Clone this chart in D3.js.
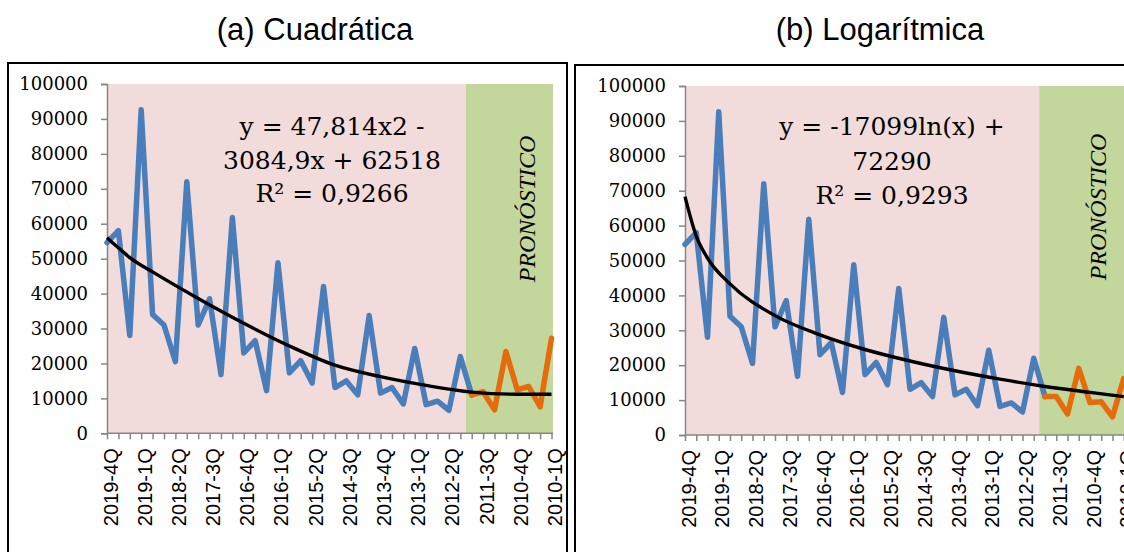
<!DOCTYPE html>
<html><head><meta charset="utf-8">
<script src="https://cdn.jsdelivr.net/npm/d3@7"></script>
<style>body{margin:0;background:#fff;} svg{display:block}</style>
</head><body>
<svg id="c" width="1124" height="552"></svg>
<script>
// ---------- DATA ----------
const categories = ["2019-4Q","2019-3Q","2019-2Q","2019-1Q","2018-4Q","2018-3Q","2018-2Q","2018-1Q",
  "2017-4Q","2017-3Q","2017-2Q","2017-1Q","2016-4Q","2016-3Q","2016-2Q","2016-1Q",
  "2015-4Q","2015-3Q","2015-2Q","2015-1Q","2014-4Q","2014-3Q","2014-2Q","2014-1Q",
  "2013-4Q","2013-3Q","2013-2Q","2013-1Q","2012-4Q","2012-3Q","2012-2Q","2012-1Q",
  "2011-4Q","2011-3Q","2011-2Q","2011-1Q","2010-4Q","2010-3Q","2010-2Q","2010-1Q"];
const tickLabels = ["2019-4Q","2019-1Q","2018-2Q","2017-3Q","2016-4Q","2016-1Q","2015-2Q",
  "2014-3Q","2013-4Q","2013-1Q","2012-2Q","2011-3Q","2010-4Q","2010-1Q"];
// actual values, categories 2019-4Q .. 2011-4Q
const actual = [54600,58000,28000,92600,34000,31000,20500,72000,31000,38500,16800,61800,
  23000,26500,12200,48800,17300,20800,14400,42000,13100,15000,11000,33700,11500,13100,
  8400,24300,8200,9200,6600,22000,11000];
// forecast values, categories 2011-4Q .. 2010-1Q
const forecastCats = ["2011-4Q","2011-3Q","2011-2Q","2011-1Q","2010-4Q","2010-3Q","2010-2Q","2010-1Q"];
const forecastQuad = [11000,11900,6700,23400,12400,13400,7600,27200];
const forecastLog  = [11000,11000,6000,19100,9300,9500,5200,16200];
// trend line values
const trendCats = ["2019-4Q","2019-3Q","2019-2Q","2018-4Q","2017-4Q","2016-4Q","2015-4Q",
  "2014-4Q","2013-4Q","2012-4Q","2011-4Q","2010-4Q","2010-1Q"];
const trendQuad = [56000,53100,50300,46200,38600,31500,25000,19500,16200,13700,11800,11200,11200];
const trendLog  = [68300,57000,50700,43300,34200,28700,24500,21200,18400,16000,13900,12200,11000];
const yTicks = [0,10000,20000,30000,40000,50000,60000,70000,80000,90000,100000];
const titles = ["(a) Cuadrática","(b) Logarítmica"];
const equations = [
  ["y = 47,814x2 -","3084,9x + 62518","R² = 0,9266"],
  ["y = -17099ln(x) +","72290","R² = 0,9293"]];
const bandLabel = "PRONÓSTICO";
const bandFrom = ["2012-1Q","2011-4Q"];

// ---------- LAYOUT ----------
const panels = [
  {box:[8,63,559,500], title:[315,40], x:[107,551.5], plotRight:553, y:[433.3,84],
   forecast:forecastQuad, trend:trendQuad, eq:equations[0], eqPos:[332,135], eqLH:33.5, band:[535,209]},
  {box:[575,65,560,500], title:[880,40], x:[685,1123.75], plotRight:1130, y:[435,86],
   forecast:forecastLog, trend:trendLog, eq:equations[1], eqPos:[892,135], eqLH:34.5, band:[1106,207]}
];
const C = {blue:"#4A7EBB", orange:"#E46C0A", pink:"#F2DCDB", green:"#C3D69B", axis:"#868686"};
const serif = "'DejaVu Serif', serif";

const svg = d3.select("#c");

panels.forEach((p, i) => {
  const g = svg.append("g");
  g.append("text").attr("x", p.title[0]).attr("y", p.title[1]).attr("text-anchor","middle")
    .attr("font-family","'Liberation Sans', Arial, sans-serif").attr("font-size",31).attr("fill","#000")
    .text(titles[i]);
  g.append("rect").attr("x",p.box[0]).attr("y",p.box[1]).attr("width",p.box[2]).attr("height",p.box[3])
    .attr("fill","none").attr("stroke","#000").attr("stroke-width",2);

  const x = d3.scalePoint().domain(categories).range(p.x);
  const y = d3.scaleLinear().domain([0,100000]).range(p.y);

  // backgrounds
  g.append("rect").attr("x",p.x[0]).attr("y",p.y[1]).attr("width",p.plotRight-p.x[0])
    .attr("height",p.y[0]-p.y[1]).attr("fill",C.pink);
  const bx = (x(bandFrom[0]) + x(bandFrom[1]))/2;
  g.append("rect").attr("x",bx).attr("y",p.y[1]).attr("width",p.plotRight-bx)
    .attr("height",p.y[0]-p.y[1]).attr("fill",C.green);

  // y axis
  const ya = g.append("g").attr("transform",`translate(${p.x[0]},0)`)
    .call(d3.axisLeft(y).tickValues(yTicks).tickSize(6).tickPadding(13).tickFormat(d3.format("d")));
  ya.select(".domain").attr("stroke",C.axis).attr("stroke-width",1.5);
  ya.selectAll(".tick line").attr("stroke",C.axis).attr("stroke-width",1.5);
  ya.selectAll("text").attr("font-family",serif).attr("font-size",18).attr("fill","#000");

  // x axis
  const xa = g.append("g").attr("transform",`translate(0,${p.y[0]})`)
    .call(d3.axisBottom(x).tickValues(categories).tickSize(6)
      .tickFormat(d => tickLabels.includes(d) ? d : ""));
  xa.select(".domain").attr("stroke",C.axis).attr("stroke-width",1.5)
    .attr("d",`M${p.x[0]},0H${p.plotRight}`);
  xa.selectAll(".tick line").attr("stroke",C.axis).attr("stroke-width",1.5);
  xa.selectAll("text").attr("font-family","'Liberation Sans', Arial, sans-serif").attr("font-size",20)
    .attr("fill","#000").attr("transform","rotate(-90)").attr("text-anchor","end")
    .attr("x",-15).attr("y",0).attr("dy","0.5em");

  const line = d3.line().x(d => x(d[0])).y(d => y(d[1]));
  const actualPts = actual.map((v,k) => [categories[k], v]);
  const fcPts = p.forecast.map((v,k) => [forecastCats[k], v]);
  g.append("path").datum(actualPts).attr("d",line).attr("fill","none").attr("stroke",C.blue)
    .attr("stroke-width",5.5).attr("stroke-linejoin","round").attr("stroke-linecap","round");
  g.append("path").datum(fcPts).attr("d",line).attr("fill","none").attr("stroke",C.orange)
    .attr("stroke-width",5.5).attr("stroke-linejoin","round").attr("stroke-linecap","round");
  const tline = d3.line().x(d => x(d[0])).y(d => y(d[1])).curve(d3.curveMonotoneX);
  g.append("path").datum(p.trend.map((v,k) => [trendCats[k], v])).attr("d",tline)
    .attr("fill","none").attr("stroke","#000").attr("stroke-width",3.4);

  // equation
  p.eq.forEach((t,k) => {
    g.append("text").attr("x",p.eqPos[0]).attr("y",p.eqPos[1]+k*p.eqLH).attr("text-anchor","middle")
      .attr("font-family",serif).attr("font-size",25).attr("fill","#000").text(t);
  });
  // band label
  g.append("text").attr("transform",`translate(${p.band[0]},${p.band[1]}) rotate(-90)`)
    .attr("text-anchor","middle").attr("font-family","'Liberation Serif', serif")
    .attr("font-style","italic").attr("font-size",24).attr("fill","#000").text(bandLabel);
});
</script>
</body></html>
